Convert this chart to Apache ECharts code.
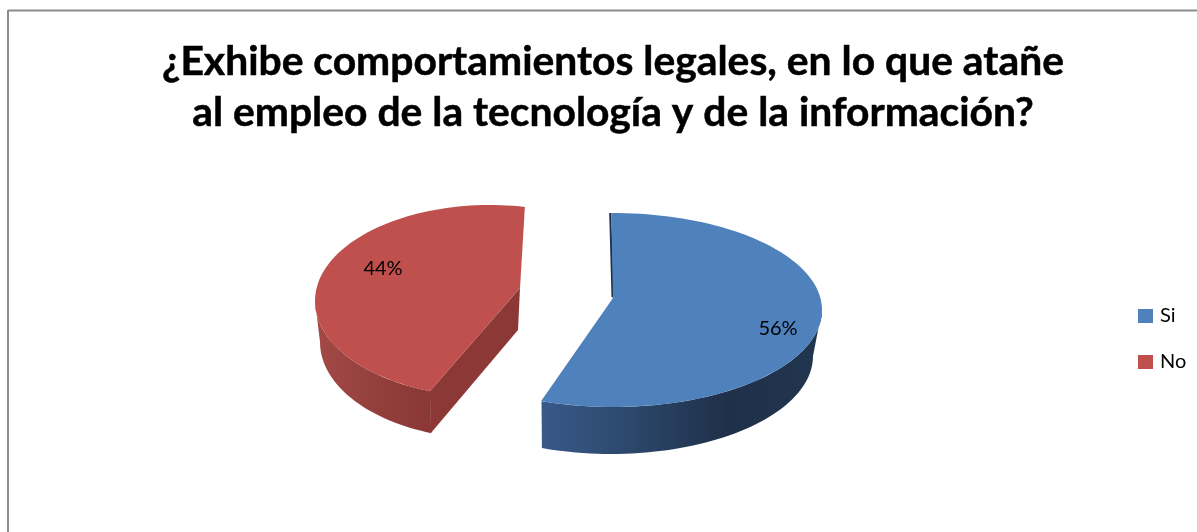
<!DOCTYPE html>
<html>
<head>
<meta charset="utf-8">
<style>html,body{margin:0;padding:0;background:#fff}#c{width:1197px;height:532px}</style>
<script src="https://cdn.jsdelivr.net/npm/echarts@6/dist/echarts.min.js"></script>
</head>
<body>
<div id="c"></div>
<script>
const titleLines = ['¿Exhibe comportamientos legales, en lo que atañe', 'al empleo de la tecnología y de la información?'];
const categories = ['Si', 'No'];
const shares = [56, 44];
const labels = ['56%', '44%'];
const topColors = ['#4f81bd', '#bf504d'];

// Drawing style of the exploded, tilted pie (no data here)
const looks = [
  { apex:[613,298], apexLow:[613,298], top:{cx:613,cy:310,rx:209,ry:97}, low:{cx:611,cy:356,rx:202,ry:98},
    startFix:1, endFix:0, wall:[0,110], wallStops:['#223650','#1f3049','#2b4669','#38598a'], cut:'#1f3049', labelAt:[778,329] },
  { apex:[520,288], apexLow:[518,330], top:{cx:490,cy:301,rx:175,ry:96}, low:{cx:489,cy:342,rx:169,ry:97},
    startFix:0, endFix:13, wall:[110,180], wallStops:['#8a3835','#93403d','#a44a47'], cut:'#8c3836', labelAt:[383,269] }
];
const START_ANGLE = -91.5;
const total = shares.reduce((a, b) => a + b, 0);

function rim(e, deg) {
  const t = deg * Math.PI / 180;
  return [e.cx + e.rx * Math.cos(t), e.cy + e.ry * Math.sin(t)];
}
function arc(e, a, b) {
  const pts = [], n = Math.max(8, Math.ceil(Math.abs(b - a) / 2));
  for (let i = 0; i <= n; i++) pts.push(rim(e, a + (b - a) * i / n));
  return pts;
}
function sliceStart(i) {
  let before = 0;
  for (let k = 0; k < i; k++) before += shares[k];
  return START_ANGLE + 360 * before / total;
}
function renderer(i) {
  return function (params, api) {
    const look = looks[i];
    const a0 = sliceStart(i);
    const share = api.value(0);
    const a = a0 + look.startFix;
    const b = a0 + 360 * share / total + look.endFix;
    const children = [];
    // the wall polygon's gradient runs from the angle-0 side (right) to the 180 side (left)
    const stops = look.wallStops.map((c, k) => ({ offset: i === 0 ? 1 - k / (look.wallStops.length - 1) : k / (look.wallStops.length - 1), color: c }));
    stops.sort((p, q) => p.offset - q.offset);
    if (i === 1) {
      children.push({ type: 'polygon', shape: { points: [look.apex, rim(look.top, a), rim(look.low, a), look.apexLow] },
        style: { fill: look.cut } });
    } else {
      const s = rim(look.top, a);
      children.push({ type: 'polygon', shape: { points: [[s[0] - 2, s[1]], [look.apex[0] - 1.5, look.apex[1] - 1], [look.apex[0] + 1, look.apex[1]], s] },
        style: { fill: look.cut } });
    }
    const wallPts = arc(look.top, look.wall[0], look.wall[1]).concat(arc(look.low, look.wall[1], look.wall[0]));
    children.push({ type: 'polygon', shape: { points: wallPts },
      style: { fill: { type: 'linear', x: 0, y: 0, x2: 1, y2: 0, colorStops: i === 0 ? stops : stops.map(s => ({ offset: 1 - s.offset, color: s.color })).reverse() } } });
    children.push({ type: 'polygon', shape: { points: [look.apex].concat(arc(look.top, a, b)) },
      style: { fill: topColors[i] } });
    children.push({ type: 'text', style: { text: labels[i], x: look.labelAt[0], y: look.labelAt[1], align: 'center', verticalAlign: 'middle',
      font: '20px Lato', fill: '#000' } });
    return { type: 'group', children };
  };
}

const chart = echarts.init(document.getElementById('c'), null, { renderer: 'canvas' });
chart.setOption({
  animation: false,
  backgroundColor: '#fff',
  title: {
    text: titleLines.join('\n'),
    left: 608, top: 31, textAlign: 'center',
    textStyle: { fontFamily: 'Lato', fontWeight: 'bold', fontSize: 40.8, lineHeight: 51, color: '#000', textBorderColor: '#000', textBorderWidth: 0.5 }
  },
  legend: {
    orient: 'vertical', left: 1133, top: 301, itemWidth: 15, itemHeight: 14, itemGap: 26, icon: 'rect',
    data: categories,
    textStyle: { fontFamily: 'Lato', fontSize: 20, color: '#000', padding: [0, 0, 0, 2] }
  },
  graphic: [
    { type: 'line', shape: { x1: 8, y1: 10.5, x2: 1197, y2: 10.5 }, style: { stroke: '#8c8c8c', lineWidth: 2 } },
    { type: 'line', shape: { x1: 8, y1: 10, x2: 8, y2: 532 }, style: { stroke: '#8c8c8c', lineWidth: 2 } }
  ],
  series: categories.map((name, i) => ({
    type: 'custom', name, coordinateSystem: 'none', silent: true,
    itemStyle: { color: topColors[i] },
    data: [shares[i]],
    renderItem: renderer(i)
  }))
});
</script>
</body>
</html>
